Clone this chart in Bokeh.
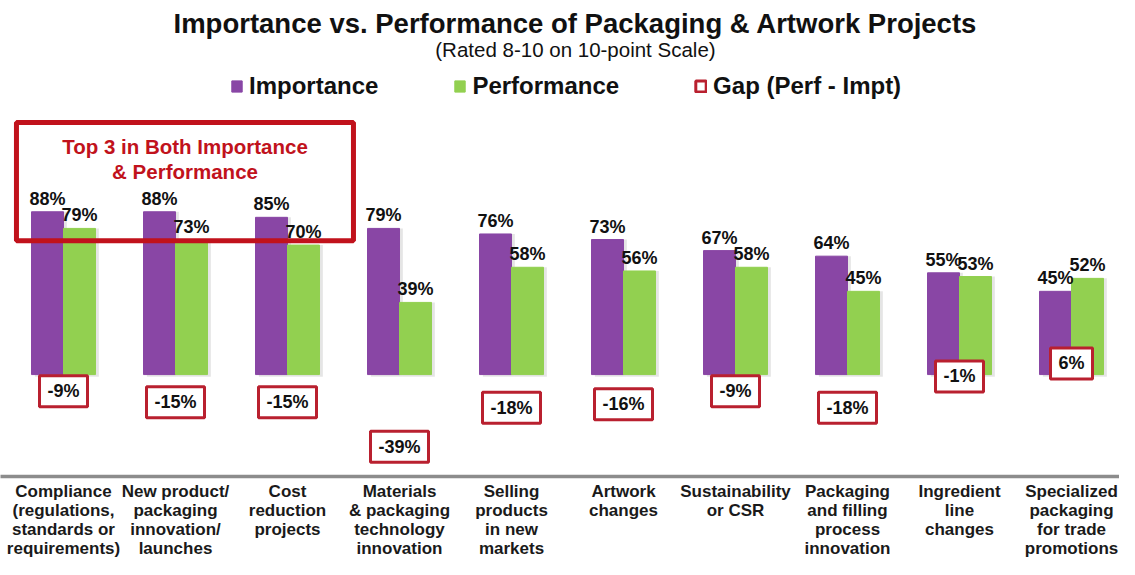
from bokeh.plotting import figure
from bokeh.models import ColumnDataSource, Range1d, FixedTicker, BoxAnnotation, Label
from bokeh.transform import dodge
from bokeh.core.properties import value
from bokeh.embed import file_html
from bokeh.resources import INLINE

# ---------------- data ----------------
categories = [
    "Compliance\n(regulations,\nstandards or\nrequirements)",
    "New product/\npackaging\ninnovation/\nlaunches",
    "Cost\nreduction\nprojects",
    "Materials\n& packaging\ntechnology\ninnovation",
    "Selling\nproducts\nin new\nmarkets",
    "Artwork\nchanges",
    "Sustainability\nor CSR",
    "Packaging\nand filling\nprocess\ninnovation",
    "Ingredient\nline\nchanges",
    "Specialized\npackaging\nfor trade\npromotions",
]
importance = [88, 88, 85, 79, 76, 73, 67, 64, 55, 45]
performance = [79, 73, 70, 39, 58, 56, 58, 45, 53, 52]
gap = [-9, -15, -15, -39, -18, -16, -9, -18, -1, 6]

title_text = "Importance vs. Performance of Packaging & Artwork Projects"
subtitle_text = "(Rated 8-10 on 10-point Scale)"
callout_lines = ["Top 3 in Both Importance", "& Performance"]

# ---------------- styles ----------------
FONT = "Liberation Sans"
PURPLE = "#8946a5"
GREEN = "#92d050"
GAP_RED = "#b9202f"
BOX_RED = "#c1121c"
BAR_W = 0.2857
OFF = BAR_W / 2

CHAR_W = {"-": 0.333, "%": 0.889}


def box_width(txt, size=18):
    return sum(CHAR_W.get(c, 0.556) for c in txt) * size + 16


idx = list(range(len(categories)))
src = ColumnDataSource(dict(
    x=idx,
    imp=importance,
    perf=performance,
    gap=gap,
    imp_lbl=[f"{v}%" for v in importance],
    perf_lbl=[f"{v}%" for v in performance],
    gap_lbl=[f"{v}%" for v in gap],
    gap_w=[box_width(f"{v}%") for v in gap],
))

X0 = -0.5625
p = figure(
    frame_width=1119, frame_height=476,
    x_range=Range1d(X0, X0 + 1119 / 112), y_range=Range1d(-55.1, 202.2),
    output_backend="svg", toolbar_location=None,
    y_axis_location=None,
    min_border_left=0, min_border_right=0, min_border_top=0, min_border_bottom=0,
)
p.outline_line_color = None
p.xgrid.visible = False
p.ygrid.visible = False
p.background_fill_color = "white"
p.border_fill_color = "white"

# soft shadows
for key, off in (("imp", -OFF), ("perf", OFF)):
    p.vbar(x=dodge("x", off + 0.03, range=p.x_range), top=key, bottom=-1.2, width=BAR_W,
           source=src, fill_color="#000000", fill_alpha=0.10, line_color=None)

p.vbar(x=dodge("x", -OFF, range=p.x_range), top="imp", bottom=0, width=BAR_W, source=src,
       fill_color=PURPLE, line_color=PURPLE, legend_label="Importance")
p.vbar(x=dodge("x", OFF, range=p.x_range), top="perf", bottom=0, width=BAR_W, source=src,
       fill_color=GREEN, line_color=GREEN, legend_label="Performance")

txt_common = dict(text_font=value(FONT), text_font_style="bold", text_font_size="18px",
                  text_color="#111111", text_align="center")
p.text(x=dodge("x", -OFF, range=p.x_range), y="imp", text="imp_lbl", source=src,
       text_baseline="alphabetic", y_offset=-13, **txt_common)
p.text(x=dodge("x", OFF, range=p.x_range), y="perf", text="perf_lbl", source=src,
       text_baseline="alphabetic", y_offset=-13, **txt_common)

# gap boxes
p.rect(x="x", y="gap", width="gap_w", width_units="screen", height=31, height_units="screen",
       source=src, fill_color="white", line_color=GAP_RED, line_width=3,
       legend_label="Gap (Perf - Impt)")
p.text(x="x", y="gap", text="gap_lbl", source=src, text_baseline="middle", **txt_common)

# callout box
p.add_layout(BoxAnnotation(left=-0.42, right=2.589, bottom=72.4, top=136.2,
                           fill_alpha=0, line_color=BOX_RED, line_alpha=1.0, line_width=5))
for line, yy in zip(callout_lines, (123.2, 109.7)):
    p.add_layout(Label(x=1.085, y=yy, text=line, text_align="center", text_baseline="middle",
                       text_font=FONT, text_font_style="bold", text_font_size="20.5px",
                       text_color=BOX_RED))

# titles
p.add_layout(Label(x=4.571, y=189.7, text=title_text, text_align="center", text_baseline="middle",
                   text_font=FONT, text_font_style="bold", text_font_size="27.5px",
                   text_color="#111111"))
p.add_layout(Label(x=4.571, y=175.7, text=subtitle_text, text_align="center", text_baseline="middle",
                   text_font=FONT, text_font_size="20.5px", text_color="#111111"))

# legend
lg = p.legend[0]
lg.orientation = "horizontal"
lg.location = (230, 376)
lg.border_line_color = None
lg.background_fill_alpha = 0
lg.padding = 0
lg.margin = 0
lg.spacing = 75
lg.glyph_width = 13
lg.glyph_height = 14
lg.label_standoff = 6
lg.label_text_font = FONT
lg.label_text_font_style = "bold"
lg.label_text_font_size = "24px"
lg.label_text_color = "#111111"

# x axis
ax = p.xaxis[0]
ax.ticker = FixedTicker(ticks=idx)
ax.major_label_overrides = {i: c for i, c in zip(idx, categories)}
ax.major_tick_line_color = None
ax.minor_tick_line_color = None
ax.major_tick_out = 0
ax.major_tick_in = 0
ax.minor_tick_out = 0
ax.axis_line_color = "#8c8c8c"
ax.axis_line_width = 3.5
ax.major_label_standoff = 5
ax.major_label_text_font = FONT
ax.major_label_text_font_style = "bold"
ax.major_label_text_font_size = "17px"
ax.major_label_text_color = "#1a1a1a"
ax.major_label_text_line_height = 1.0

open("out.html", "w").write(file_html(p, INLINE))
